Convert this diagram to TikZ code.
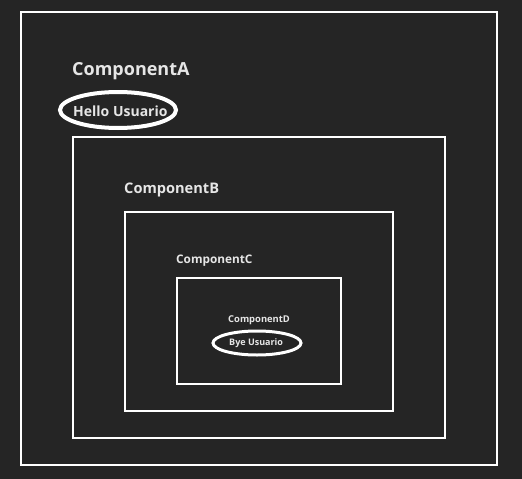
\documentclass[tikz,border=0pt]{standalone}
\usepackage{fontspec}
\setmainfont{Open Sans}
\usetikzlibrary{shapes.geometric}
\definecolor{bg}{HTML}{252525}
\definecolor{fg}{HTML}{E6E6E6}
\begin{document}
\begin{tikzpicture}[x=1pt,y=-1pt,
  box/.style={draw=white,line width=2pt},
  lbl/.style={text=fg,font=\bfseries,anchor=west,inner sep=0pt}]
\fill[bg] (0,0) rectangle (522,479);
\useasboundingbox (0,0) rectangle (522,479);
\draw[box] (21,12) rectangle (497,465);
\draw[box] (73,137) rectangle (445,438);
\draw[box] (125,212) rectangle (393,411);
\draw[box] (177,278) rectangle (341,384);
\node[lbl,font=\fontsize{18}{20}\selectfont\bfseries] (a) at (72,71.5) {ComponentA};
\node[lbl,font=\fontsize{14}{16}\selectfont\bfseries] (h) at (73,111) {Hello Usuario};
\draw[white,line width=4pt] (118,110) ellipse [x radius=58,y radius=18];
\node[lbl,font=\fontsize{14.6}{16}\selectfont\bfseries] (b) at (124,189.5) {ComponentB};
\node[lbl,font=\fontsize{11.8}{13}\selectfont\bfseries] (c) at (176,260.5) {ComponentC};
\node[lbl,font=\fontsize{9.4}{11}\selectfont\bfseries] (d) at (228,320) {ComponentD};
\node[lbl,font=\fontsize{9}{10}\selectfont\bfseries] (y) at (229,343.5) {Bye Usuario};
\draw[white,line width=3pt] (257,343) ellipse [x radius=44,y radius=12];
\end{tikzpicture}
\end{document}
